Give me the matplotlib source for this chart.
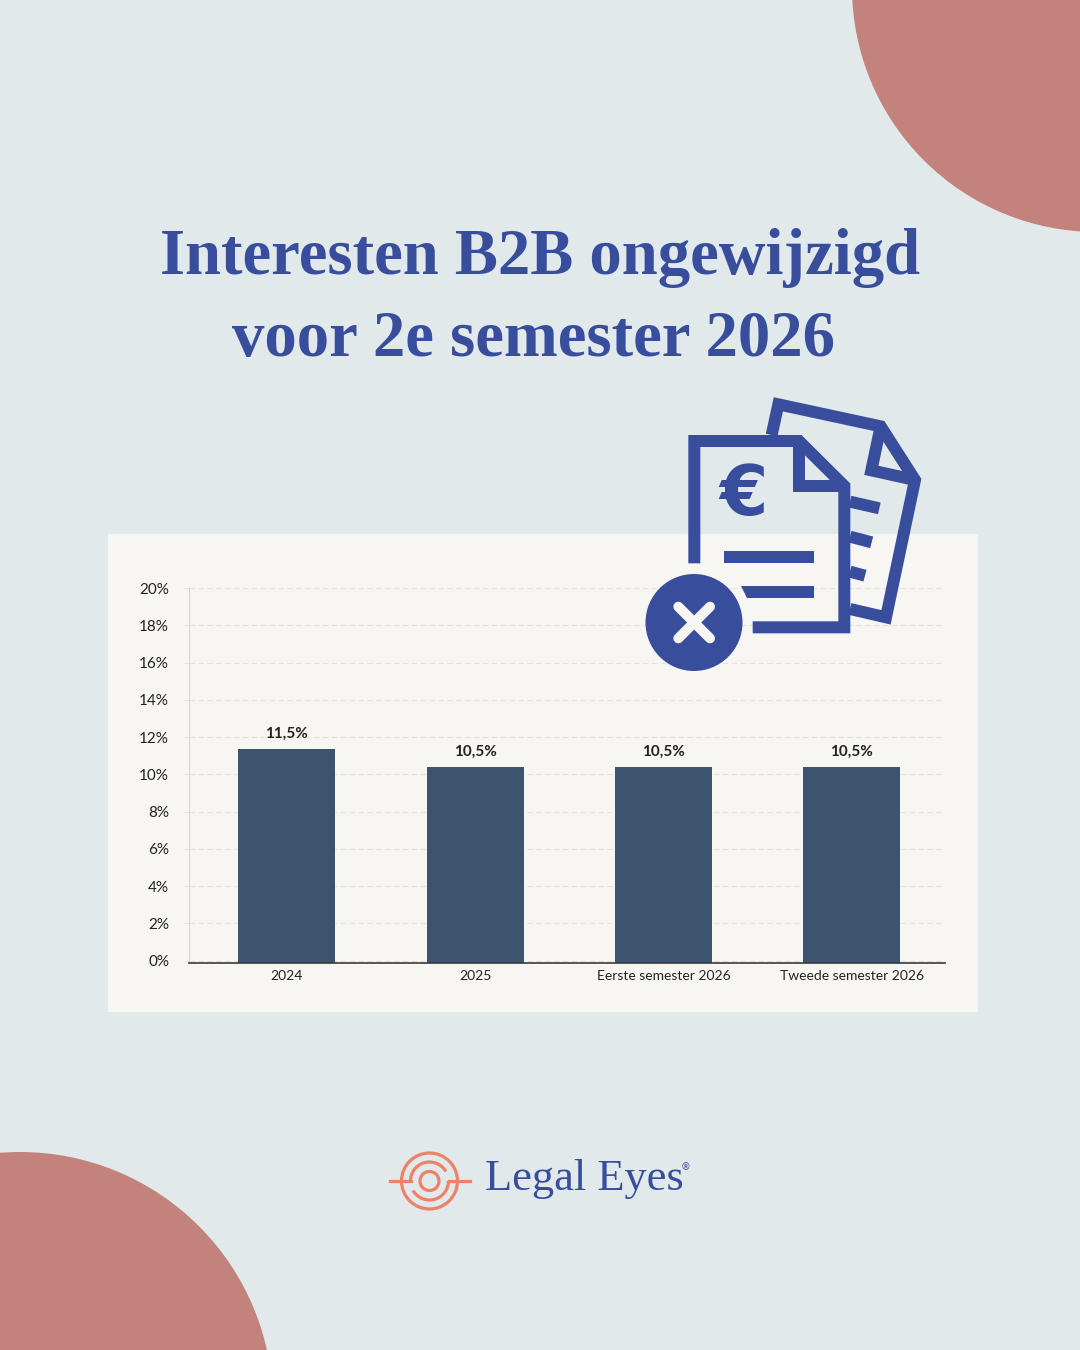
import matplotlib
matplotlib.use("Agg")
import matplotlib.pyplot as plt
from matplotlib.patches import Circle, Rectangle, Polygon, Arc

# data
categories = ["2024", "2025", "Eerste semester 2026", "Tweede semester 2026"]
values = [11.5, 10.5, 10.5, 10.5]
value_labels = ["11,5%", "10,5%", "10,5%", "10,5%"]
y_ticks = [0, 2, 4, 6, 8, 10, 12, 14, 16, 18, 20]
y_tick_labels = ["0%", "2%", "4%", "6%", "8%", "10%", "12%", "14%", "16%", "18%", "20%"]

BG = "#E1E9EB"
PANEL = "#F8F6F2"
CORNER = "#C4827C"
BLUE = "#384E9C"
BAR = "#3D546F"
ORANGE = "#EF8069"
INK = "#222222"

W, H = 1080, 1350
fig = plt.figure(figsize=(W / 100, H / 100), dpi=100, facecolor=BG)


def px_axes(zorder):
    a = fig.add_axes([0, 0, 1, 1], zorder=zorder)
    a.set_xlim(0, W)
    a.set_ylim(H, 0)
    a.axis("off")
    a.patch.set_alpha(0)
    return a


def lw(p):
    return p * 0.72


# background
bg = px_axes(0)
bg.add_patch(Circle((1097, -13), 245, color=CORNER, lw=0))
bg.add_patch(Circle((20, 1405), 253, color=CORNER, lw=0))
bg.add_patch(Rectangle((108, 534), 870, 478, color=PANEL, lw=0))

bg.text(540, 258, "Interesten B2B ongewijzigd", ha="center", va="center",
        family="Liberation Serif", weight="bold", fontsize=46.5, color=BLUE)
bg.text(533, 340, "voor 2e semester 2026", ha="center", va="center",
        family="Liberation Serif", weight="bold", fontsize=46.5, color=BLUE)

# chart
left, right, top, bottom = 189, 945, 588, 963
ax = fig.add_axes([left / W, 1 - bottom / H, (right - left) / W, (bottom - top) / H], zorder=1)
ax.patch.set_alpha(0)
y_base = -0.12
ax.set_ylim(y_base, 20)
ax.set_xlim(-0.518, 3.494)
x = list(range(len(categories)))
bars = ax.bar(x, values, width=0.515, bottom=y_base, color=BAR, zorder=3)
for b, lab in zip(bars, value_labels):
    ax.annotate(lab, (b.get_x() + b.get_width() / 2, b.get_height() + y_base),
                xytext=(0, 6), textcoords="offset points", ha="center", va="bottom",
                family="Lato", weight="bold", fontsize=11, color=INK)

ax.set_yticks(y_ticks)
ax.set_yticklabels(y_tick_labels, family="Lato", fontsize=11, color=INK)
ax.set_xticks(x)
ax.set_xticklabels(categories, family="Lato", fontsize=10, color=INK)
ax.tick_params(axis="x", length=0, pad=5)
ax.tick_params(axis="y", length=4.3, width=0.7, color="#E6E3DE", pad=10)
ax.grid(axis="y", color="#E6E3DE", lw=0.8, ls=(0, (5, 3)), zorder=0)
for side in ["top", "right"]:
    ax.spines[side].set_visible(False)
ax.spines["left"].set_color("#D6D4CF")
ax.spines["left"].set_linewidth(0.8)
ax.spines["bottom"].set_color("#3A3A3A")
ax.spines["bottom"].set_linewidth(1.2)
ax.spines["bottom"].set_zorder(5)

# icon in pixels
ic = px_axes(2)


def z(pts):
    return [(630 + a / 3, 385 + b / 3) for a, b in pts]


def stroke(pts, width=12, cap="butt"):
    xs, ys = zip(*z(pts))
    ic.plot(xs, ys, color=BLUE, lw=lw(width), solid_capstyle=cap, solid_joinstyle="miter")


stroke([(425, 150), (445, 58), (752, 124), (855, 285), (768, 697), (660, 672)])
stroke([(752, 124), (724, 256), (855, 285)])
stroke([(660, 350), (748, 370)])
stroke([(660, 455), (725, 472)])
stroke([(660, 560), (705, 572)])
stroke([(193, 535), (193, 168), (507, 168), (643, 303), (643, 727), (368, 727)])
stroke([(507, 168), (507, 303), (643, 303)])
stroke([(283, 515), (553, 515)])
ic.add_patch(Polygon(z([(333, 603), (553, 603), (553, 638), (352, 638)]), color=BLUE, lw=0))
ic.text(630 + 340 / 3, 385 + 333 / 3, "€", ha="center", va="center", family="DejaVu Sans",
        weight="bold", fontsize=50, color=BLUE)
ic.add_patch(Circle((694, 622.5), 48.5, color=BLUE, lw=0))
stroke([(145, 665), (240, 760)], 10, "round")
ic.lines[-1].set_color(PANEL)
stroke([(240, 665), (145, 760)], 10, "round")
ic.lines[-1].set_color(PANEL)

# logo
cx, cy = 429.5, 1181
ic.add_patch(Circle((cx, cy), 28, fill=False, ec=ORANGE, lw=lw(3.2)))
ic.add_patch(Circle((cx, cy), 9.5, fill=False, ec=ORANGE, lw=lw(3.2)))
ic.add_patch(Arc((cx, cy), 38, 38, theta1=0, theta2=150, ec=ORANGE, lw=lw(3.2)))
ic.add_patch(Arc((cx, cy), 38, 38, theta1=180, theta2=330, ec=ORANGE, lw=lw(3.2)))
ic.plot([390, 411], [cy, cy], color=ORANGE, lw=lw(3.2))
ic.plot([449, 470], [cy, cy], color=ORANGE, lw=lw(3.2))
ic.text(485, 1179, "Legal Eyes", ha="left", va="center", family="Liberation Serif",
        fontsize=32, color=BLUE)
ic.text(681, 1167, "®", ha="left", va="center", family="DejaVu Sans", fontsize=7, color=BLUE)

fig.savefig("out.png", dpi=100, facecolor=BG)
